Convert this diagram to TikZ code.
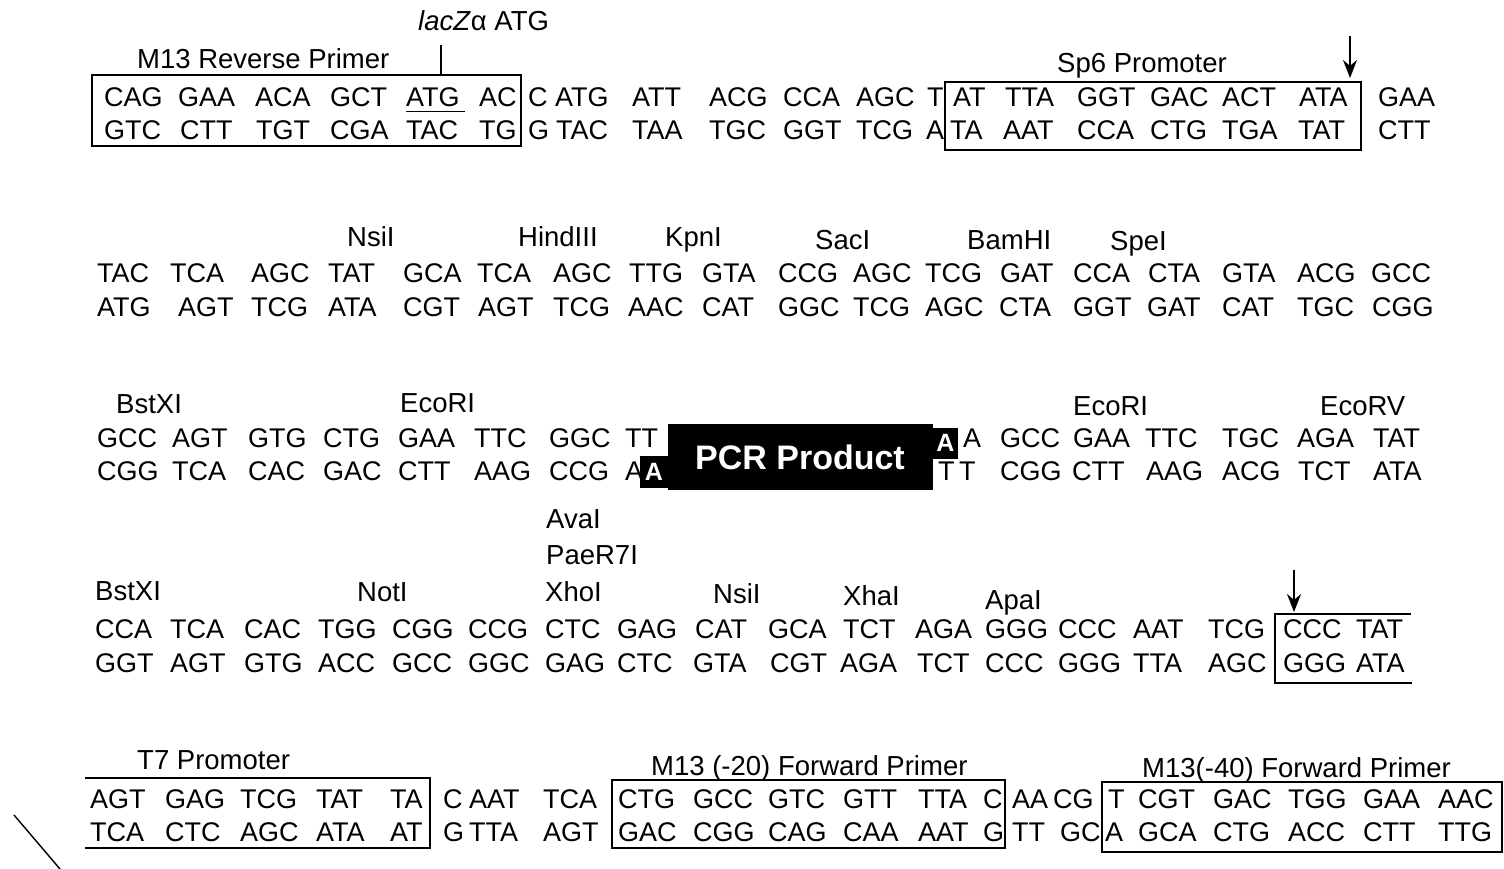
\documentclass[tikz,border=0pt]{standalone}
\usepackage{fontspec}
\setmainfont{Liberation Sans}
\usetikzlibrary{arrows.meta}
\tikzset{
  seq/.style={anchor=base west, inner sep=0pt, font=\fontsize{27}{30}\selectfont},
  lab/.style={anchor=base west, inner sep=0pt, font=\fontsize{27.5}{30}\selectfont},
  boxline/.style={line width=1.4pt},
  cut/.style={line width=2pt, -{Stealth[length=18pt,width=14pt]}},
  pcr/.style={fill=black, text=white, inner sep=0pt, font=\fontsize{34}{36}\selectfont\bfseries},
  pcra/.style={fill=black, text=white, inner sep=0pt, font=\fontsize{25}{28}\selectfont\bfseries}
}
\begin{document}
\begin{tikzpicture}[x=1pt,y=-1pt]
\useasboundingbox (0,0) rectangle (1504,869);
% ---------- Row 1 ----------
\node[lab] (lacz) at (418,31) {\textit{lacZ}α ATG};
\node[lab] (m13rev) at (137,69) {M13 Reverse Primer};
\node[lab] (sp6) at (1057,73) {Sp6 Promoter};
\foreach \x/\s [count=\i] in {104/CAG,178/GAA,255/ACA,330/GCT,406/ATG,479/AC,528/C,555/ATG,632/ATT,709/ACG,783/CCA,856/AGC,927/T,953/AT,1005/TTA,1077/GGT,1150/GAC,1222/ACT,1299/ATA,1378/GAA}
  \node[seq] (ra\i) at (\x,107) {\s};
\foreach \x/\s [count=\i] in {104/GTC,180/CTT,256/TGT,330/CGA,406/TAC,479/TG,528/G,556/TAC,632/TAA,709/TGC,783/GGT,856/TCG,926/A,950/TA,1003/AAT,1077/CCA,1150/CTG,1222/TGA,1298/TAT,1378/CTT}
  \node[seq] (rb\i) at (\x,140) {\s};
\draw[boxline] (92,75) rectangle (521,146);
\draw[boxline] (945,82) rectangle (1361,150);
\draw[line width=1.2pt] (ra5.south west) ++(0,4) -- ++(59,0);
\coordinate (laczt) at (441,75);
\draw[line width=1.4pt] (441,45) -- (laczt);
\coordinate (cut1a) at (1350,36);
\coordinate (cut1b) at (1350,78);
\draw[cut] (cut1a) -- (cut1b);
% ---------- Row 2 ----------
\node[lab] (nsi1) at (347,247) {NsiI};
\node[lab] (hind) at (518,247) {HindIII};
\node[lab] (kpn) at (665,247) {KpnI};
\node[lab] (sac) at (815,249) {SacI};
\node[lab] (bam) at (967,249) {BamHI};
\node[lab] (spe) at (1110,251) {SpeI};
\foreach \x/\s [count=\i] in {97/TAC,170/TCA,251/AGC,328/TAT,403/GCA,477/TCA,553/AGC,629/TTG,702/GTA,778/CCG,853/AGC,925/TCG,1000/GAT,1073/CCA,1148/CTA,1222/GTA,1297/ACG,1371/GCC}
  \node[seq] (rc\i) at (\x,282) {\s};
\foreach \x/\s [count=\i] in {97/ATG,178/AGT,251/TCG,328/ATA,403/CGT,478/AGT,553/TCG,628/AAC,702/CAT,778/GGC,853/TCG,925/AGC,999/CTA,1073/GGT,1147/GAT,1222/CAT,1297/TGC,1372/CGG}
  \node[seq] (rd\i) at (\x,316) {\s};
% ---------- Row 3 ----------
\node[lab] (bst1) at (116,413) {BstXI};
\node[lab] (eco1) at (400,412) {EcoRI};
\node[lab] (eco2) at (1073,415) {EcoRI};
\node[lab] (ecorv) at (1320,415) {EcoRV};
\foreach \x/\s [count=\i] in {97/GCC,172/AGT,248/GTG,323/CTG,398/GAA,474/TTC,549/GGC,625/TT,963/A,1000/GCC,1073/GAA,1145/TTC,1222/TGC,1297/AGA,1373/TAT}
  \node[seq] (re\i) at (\x,447) {\s};
\foreach \x/\s [count=\i] in {97/CGG,172/TCA,248/CAC,323/GAC,398/CTT,474/AAG,549/CCG,625/A,938/T\,T,1000/CGG,1072/CTT,1146/AAG,1222/ACG,1298/TCT,1373/ATA}
  \node[seq] (rf\i) at (\x,480) {\s};
\node[pcr, minimum width=265pt, minimum height=66pt] (pcr) at (800,457) {PCR Product};
\node[pcra, minimum width=25pt, minimum height=31pt] (pcrA1) at (945.5,443) {A};
\node[pcra, minimum width=28pt, minimum height=32pt] (pcrA2) at (654,472) {A};
% ---------- Row 4 ----------
\node[lab] (ava) at (546,528) {AvaI};
\node[lab] (pae) at (546,564) {PaeR7I};
\node[lab] (xho) at (545,601) {XhoI};
\node[lab] (bst2) at (95,600) {BstXI};
\node[lab] (not) at (357,601) {NotI};
\node[lab] (nsi2) at (713,603) {NsiI};
\node[lab] (xba) at (843,605) {XhaI};
\node[lab] (apa) at (985,609) {ApaI};
\foreach \x/\s [count=\i] in {95/CCA,170/TCA,244/CAC,318/TGG,392/CGG,468/CCG,545/CTC,617/GAG,695/CAT,768/GCA,843/TCT,915/AGA,985/GGG,1058/CCC,1133/AAT,1208/TCG,1283/CCC,1356/TAT}
  \node[seq] (rg\i) at (\x,638) {\s};
\foreach \x/\s [count=\i] in {95/GGT,170/AGT,244/GTG,318/ACC,392/GCC,468/GGC,545/GAG,617/CTC,693/GTA,770/CGT,840/AGA,917/TCT,985/CCC,1058/GGG,1133/TTA,1208/AGC,1283/GGG,1356/ATA}
  \node[seq] (rh\i) at (\x,672) {\s};
\draw[boxline] (1411,614) -- (1275,614) -- (1275,683) -- (1412,683);
\coordinate (cut2a) at (1294,570);
\coordinate (cut2b) at (1294,612);
\draw[cut] (cut2a) -- (cut2b);
% ---------- Row 5 ----------
\node[lab] (t7) at (137,769) {T7 Promoter};
\node[lab] (m20) at (651,775) {M13 (-20) Forward Primer};
\node[lab] (m40) at (1142,777) {M13(-40) Forward Primer};
\foreach \x/\s [count=\i] in {90/AGT,165/GAG,240/TCG,316/TAT,390/TA,443/C,469/AAT,543/TCA,618/CTG,693/GCC,768/GTC,843/GTT,918/TTA,983/C,1012/AA,1053/CG,1108/T,1138/CGT,1213/GAC,1288/TGG,1363/GAA,1438/AAC}
  \node[seq] (ri\i) at (\x,808) {\s};
\foreach \x/\s [count=\i] in {90/TCA,165/CTC,240/AGC,316/ATA,390/AT,443/G,469/TTA,543/AGT,618/GAC,693/CGG,768/CAG,843/CAA,918/AAT,983/G,1012/TT,1060/GC,1105/A,1138/GCA,1213/CTG,1288/ACC,1363/CTT,1438/TTG}
  \node[seq] (rj\i) at (\x,841) {\s};
\draw[boxline] (85,778) -- (430,778) -- (430,848) -- (85,848);
\draw[boxline] (612,780) rectangle (1005,848);
\draw[boxline] (1102,782) rectangle (1502,852);
% stray stroke at bottom left
\draw[line width=1.4pt] (14,815) -- (60,869);
\end{tikzpicture}
\end{document}
